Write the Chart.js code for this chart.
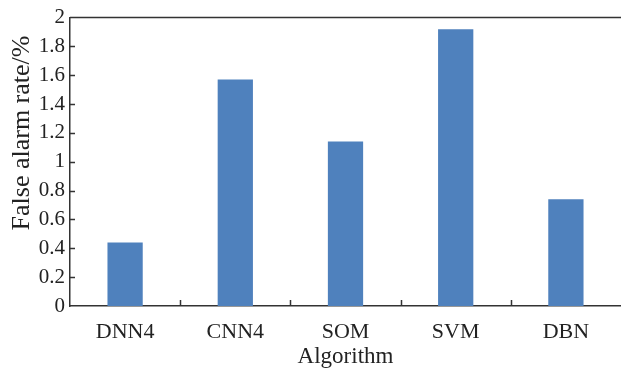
<!DOCTYPE html>
<html>
<head>
<meta charset="utf-8">
<script src="https://cdn.jsdelivr.net/npm/chart.js@4"></script>
<style>
  html,body{margin:0;padding:0;background:#fff;}
  #wrap{width:621px;height:375px;}
</style>
</head>
<body>
<div id="wrap"><canvas id="chart" width="621" height="375"></canvas></div>
<script>
const algorithms = ['DNN4','CNN4','SOM','SVM','DBN'];
const falseAlarm = [0.44, 1.57, 1.14, 1.92, 0.74];
const yMin = 0, yMax = 2, yStep = 0.2;

const SERIF = "'Liberation Serif', 'Times New Roman', serif";
const AXIS = '#333';

// inward ticks, top frame line and the rotated y title
const frame = {
  id:'frame',
  afterDraw(chart){
    const {ctx, chartArea:a, scales:{x, y}} = chart;
    ctx.save();
    ctx.strokeStyle = AXIS; ctx.lineWidth = 1.5;
    ctx.beginPath();
    ctx.moveTo(a.left, a.top); ctx.lineTo(a.right, a.top);
    y.ticks.forEach(t=>{
      const py = Math.round(y.getPixelForValue(t.value)) + 0.5;
      if(t.value > yMin && t.value < yMax){ ctx.moveTo(a.left, py); ctx.lineTo(a.left+5, py); }
    });
    for(let i=0;i<algorithms.length-1;i++){
      const px = Math.round((x.getPixelForValue(i)+x.getPixelForValue(i+1))/2) + 0.5;
      ctx.moveTo(px, a.bottom); ctx.lineTo(px, a.bottom-6);
    }
    ctx.stroke();
    ctx.fillStyle = '#222';
    ctx.font = '26px ' + SERIF;
    ctx.textAlign = 'center'; ctx.textBaseline = 'middle';
    ctx.translate(22, 133);
    ctx.rotate(-Math.PI/2);
    ctx.fillText('False alarm rate/%', 0, 0);
    ctx.restore();
  }
};

new Chart(document.getElementById('chart').getContext('2d'), {
  type:'bar',
  data:{
    labels: algorithms,
    datasets:[{ data: falseAlarm, backgroundColor:'#4f81bd', barPercentage:0.32, categoryPercentage:1 }]
  },
  options:{
    responsive:false,
    animation:false,
    layout:{ padding:{ top:14, right:0, left:0, bottom:0 } },
    plugins:{ legend:{ display:false }, tooltip:{ enabled:false } },
    scales:{
      x:{
        grid:{ display:false, drawTicks:false },
        border:{ color:AXIS, width:1.5 },
        ticks:{ color:'#222', font:{ family:SERIF, size:22 }, padding:13 },
        title:{ display:true, text:'Algorithm', color:'#222', font:{ family:SERIF, size:23 }, padding:{ top:6 } },
        afterFit(s){ s.height = 69; }
      },
      y:{
        min:yMin, max:yMax,
        grid:{ display:false, drawTicks:false },
        border:{ color:AXIS, width:1.5 },
        ticks:{ stepSize:yStep, color:'#222', font:{ family:SERIF, size:21 }, padding:5,
                callback:(v)=> String(Number(v.toFixed(1))) },
        afterFit(s){ s.width = 70; }
      }
    }
  },
  plugins:[frame]
});
</script>
</body>
</html>
